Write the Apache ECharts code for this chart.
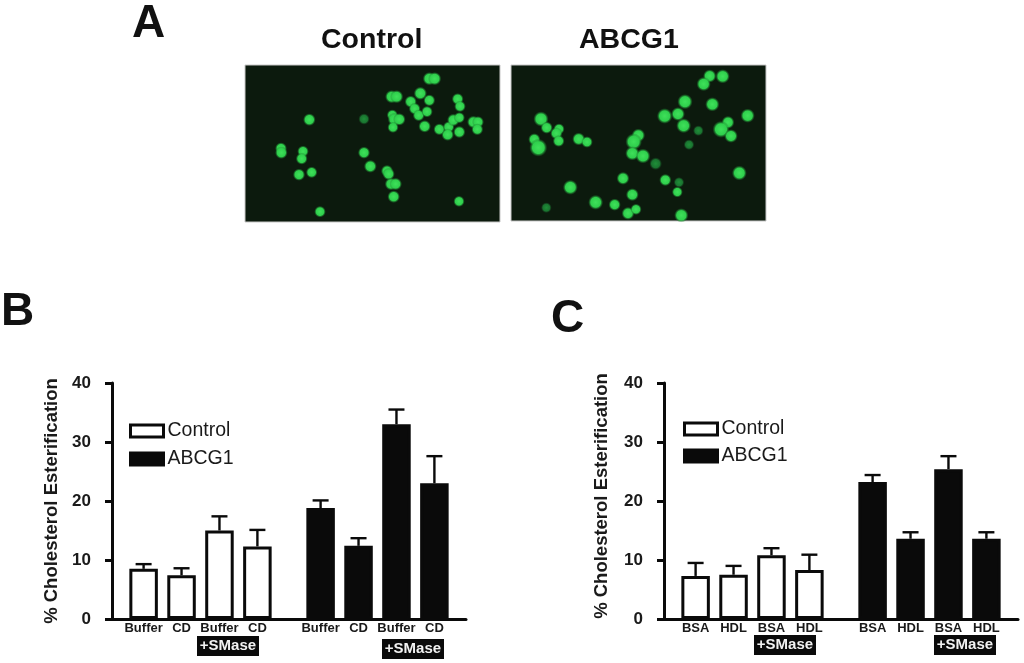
<!DOCTYPE html>
<html><head><meta charset="utf-8">
<script src="https://cdn.jsdelivr.net/npm/echarts@6/dist/echarts.min.js"></script>
<style>html,body{margin:0;background:#fff}#c{width:1024px;height:663px;filter:blur(0.6px)}</style>
</head><body><div id="c"></div>
<script>
const yTicks = [0,10,20,30,40];
const labelsB = ['Buffer','CD','Buffer','CD','Buffer','CD','Buffer','CD'];
const controlB = [8.5,7.4,15.0,12.3];
const controlBTop = [9.3,8.6,17.4,15.1];
const abcg1B = [18.8,12.4,33.0,23.0];
const abcg1BTop = [20.1,13.7,35.5,27.6];
const labelsC = ['BSA','HDL','BSA','HDL','BSA','HDL','BSA','HDL'];
const controlC = [7.3,7.5,10.8,8.3];
const controlCTop = [9.5,9.0,12.0,10.9];
const abcg1C = [23.2,13.6,25.4,13.6];
const abcg1CTop = [24.4,14.7,27.6,14.7];
// micrograph spots: x, y, diameter (crop coordinates, zoomed 3x)
const spotsControl = [[568,56,30],[584,56,30],[455,110,30],[470,110,30],[541,100,30],[512,125,27],[568,121,26],[524,146,26],[536,166,26],[561,155,25],[653,117,26],[660,139,25],[457,165,24],[463,178,30],[478,178,28],[459,202,24],[554,199,28],[598,208,26],[626,201,25],[640,180,28],[658,173,24],[623,224,28],[658,216,27],[700,186,28],[714,186,26],[712,208,26],[208,179,28],[123,265,26],[124,278,28],[189,274,25],[185,296,26],[177,344,27],[215,337,25],[372,278,27],[391,319,29],[441,333,27],[446,342,27],[453,372,28],[467,372,28],[461,410,28],[657,424,24],[240,455,25]];
const spotsControlDim = [[372,177,24]];
const spotsAbcg1 = [[614,48,30],[596,72,33],[653,49,33],[540,125,36],[622,133,33],[479,168,37],[519,162,32],[536,197,35],[669,187,29],[648,208,41],[678,228,31],[728,167,33],[108,177,36],[125,203,27],[162,207,24],[154,220,27],[161,243,26],[221,237,29],[246,246,25],[88,238,27],[100,263,44],[400,226,31],[386,245,40],[382,280,33],[414,288,35],[703,339,35],[354,355,29],[481,360,27],[517,396,23],[196,382,35],[382,404,29],[272,427,35],[329,434,27],[369,460,29],[393,448,24],[529,466,33]];
const spotsAbcg1Dim = [[580,212,22],[552,254,22],[452,311,28],[522,367,22],[124,443,22]];

const SLOTS = [2,5,8,11,16,19,22,25], SLOT_COUNT = 28;
function slotCats(labels){ const a = new Array(SLOT_COUNT).fill(''); SLOTS.forEach((s,i)=>a[s]=labels[i]); return a; }
function slotVals(vals, from){ const a = new Array(SLOT_COUNT).fill(null); vals.forEach((v,i)=>a[SLOTS[from+i]]=v); return a; }

const FONT = '"Liberation Sans", Arial, sans-serif';
const grids = [], xAxes = [], yAxes = [], series = [], legends = [];

function errorSeries(idx, vals, tops, from){
  return {type:'custom', xAxisIndex:idx, yAxisIndex:idx, z:1, silent:true,
    data: vals.map((v,i)=>[SLOTS[from+i], v, tops[i]]),
    encode:{x:0,y:[1,2]},
    renderItem(p, api){
      const b = api.coord([api.value(0), api.value(1)]);
      const t = api.coord([api.value(0), api.value(2)]);
      const st = {stroke:'#0a0a0a', lineWidth:2.4, fill:null};
      return {type:'group', children:[
        {type:'line', shape:{x1:b[0],y1:b[1],x2:t[0],y2:t[1]}, style:st},
        {type:'line', shape:{x1:t[0]-8,y1:t[1],x2:t[0]+8,y2:t[1]}, style:st}
      ]};
    }};
}
function barPanel(left, labels, ctrl, ctrlTop, abc, abcTop, legendLeft, legendTop, gap, namePad, nameGap){
  const idx = grids.length;
  grids.push({left, width:354, top:383, height:236, containLabel:false});
  xAxes.push({gridIndex:idx, type:'category', data:slotCats(labels),
    axisLine:{lineStyle:{color:'#0a0a0a',width:3}}, axisTick:{show:false},
    axisLabel:{interval:0, color:'#1a1a1a', fontFamily:FONT, fontWeight:'bold', fontSize:13, margin:3, hideOverlap:false}});
  yAxes.push({gridIndex:idx, type:'value', min:yTicks[0], max:yTicks[4], interval:10,
    name:'% Cholesterol Esterification', nameLocation:'middle', nameGap,
    nameTextStyle:{color:'#1a1a1a', fontFamily:FONT, fontWeight:'bold', fontSize:18.5, padding:[0,0,0,namePad]},
    axisLine:{show:true, lineStyle:{color:'#0a0a0a',width:3}},
    axisTick:{show:true, length:7, lineStyle:{color:'#0a0a0a',width:3}},
    splitLine:{show:false},
    axisLabel:{color:'#1a1a1a', fontFamily:FONT, fontWeight:'bold', fontSize:17, margin:21}});
  series.push(errorSeries(idx, ctrl, ctrlTop, 0), errorSeries(idx, abc, abcTop, 4));
  const base = {type:'bar', xAxisIndex:idx, yAxisIndex:idx, barWidth:28.5, barGap:'-100%', z:2, silent:true};
  series.push(Object.assign({}, base, {name:'Control', data:slotVals(ctrl,0),
    itemStyle:{color:'#fff', borderColor:'#0a0a0a', borderWidth:3}}));
  series.push(Object.assign({}, base, {name:'ABCG1', data:slotVals(abc,4),
    itemStyle:{color:'#0a0a0a', borderColor:'#0a0a0a', borderWidth:3}}));
  legends.push({data:['Control','ABCG1'].map(name=>({name, icon:'rect', itemStyle:{borderWidth:3, borderColor:'#0a0a0a'}})), orient:'vertical', left:legendLeft, top:legendTop,
    padding:0, itemWidth:33, itemHeight:12, itemGap:gap, selectedMode:false,
    textStyle:{color:'#1a1a1a', fontFamily:FONT, fontSize:19.5, padding:[0,0,0,-1]}});
}
function micrograph(left, width, top, height, xMin, bright, dim){
  const idx = grids.length;
  grids.push({left, width, top, height, show:true, backgroundColor:'#0c1a0d', borderColor:'#c8c8c8', borderWidth:1});
  xAxes.push({gridIndex:idx, type:'value', min:xMin, max:xMin+width*3, show:false});
  yAxes.push({gridIndex:idx, type:'value', min:15, max:15+height*3, inverse:true, show:false});
  const grad = (a,b,c)=>({type:'radial',x:.5,y:.5,r:.5,colorStops:[{offset:0,color:a},{offset:.65,color:b},{offset:1,color:c}]});
  const s = (data,color)=>({type:'scatter', xAxisIndex:idx, yAxisIndex:idx, data, silent:true,
    symbolSize:v=>v[2]/3+3.5, itemStyle:{color, opacity:1}});
  series.push(s(dim, grad('#1f8f38','#1a7430','rgba(20,70,30,0)')));
  series.push(s(bright, grad('#3fe05a','#2fcf4c','rgba(25,110,40,0)')));
}
barPanel(112, labelsB, controlB, controlBTop, abcg1B, abcg1BTop, 129, 421, 8, 0, 51);
barPanel(664, labelsC, controlC, controlCTop, abcg1C, abcg1CTop, 683, 419, 7, 10, 53);
micrograph(245, 255, 65, 157, 15, spotsControl, spotsControlDim);
micrograph(511, 255, 65, 156, 18, spotsAbcg1, spotsAbcg1Dim);

const heading = (text,x,y,size)=>({type:'text', x, y, style:{text, fill:'#111', font:`bold ${size}px ${FONT}`}});
const smase = (x,y)=>({type:'group', children:[
  {type:'rect', shape:{x,y,width:62,height:20}, style:{fill:'#0a0a0a'}},
  {type:'text', x:x+31, y:y+10, style:{text:'+SMase', fill:'#f2f2f2', font:`bold 15px ${FONT}`, align:'center', verticalAlign:'middle'}}
]});
const chart = echarts.init(document.getElementById('c'), null, {renderer:'canvas'});
chart.setOption({
  animation:false, backgroundColor:'#fff', tooltip:{show:false},
  grid:grids, xAxis:xAxes, yAxis:yAxes, series, legend:legends,
  graphic:[
    heading('A',132,1,46), heading('B',1,289,46), heading('C',551,296,46),
    heading('Control',321,26,28.5), heading('ABCG1',579,26,28.5),
    smase(197,636), smase(382,639), smase(754,635), smase(934,635)
  ]
});
</script></body></html>
